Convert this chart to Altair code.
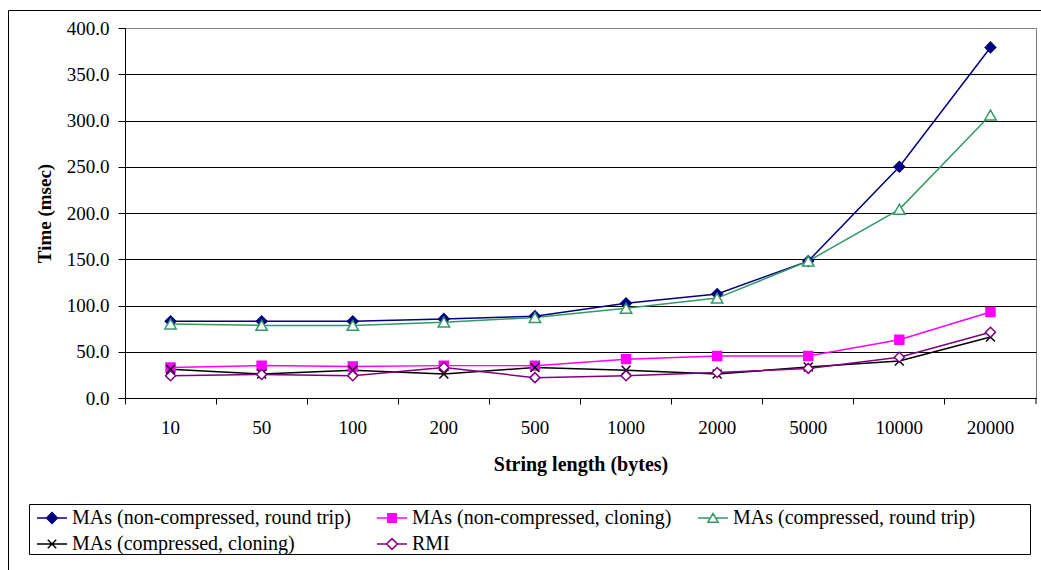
import altair as alt
import pandas as pd

categories = ["10", "50", "100", "200", "500", "1000", "2000", "5000", "10000", "20000"]
series_names = [
    "MAs (non-compressed, round trip)",
    "MAs (non-compressed, cloning)",
    "MAs (compressed, round trip)",
    "MAs (compressed, cloning)",
    "RMI",
]
ma_nc_round_trip = [83, 83, 83, 85.5, 88.5, 102.5, 112.5, 148, 250, 379]
ma_nc_cloning = [33, 35, 34, 35, 35, 42, 45.5, 45.5, 63, 93]
ma_c_round_trip = [80, 78.5, 78.5, 82, 87, 97, 108, 148, 204, 306]
ma_c_cloning = [31, 26, 30, 26, 33, 30, 26, 33.5, 40, 66]
rmi = [24, 25.5, 24, 33, 22, 24, 27.5, 32, 44, 71]
y_ticks = [0, 50, 100, 150, 200, 250, 300, 350, 400]

colors = ["#000080", "#FF00FF", "#339966", "#000000", "#800080"]
fills = ["#000080", "#FF00FF", "#FFFFFF", "#FFFFFF", "#FFFFFF"]

all_values = [ma_nc_round_trip, ma_nc_cloning, ma_c_round_trip, ma_c_cloning, rmi]
rows = []
for name, vals in zip(series_names, all_values):
    for c, v in zip(categories, vals):
        rows.append({"length": c, "time": v, "series": name})
df = pd.DataFrame(rows)

FONT = "Liberation Serif"
W, H = 911, 370

x_enc = alt.X(
    "length:N",
    sort=categories,
    scale=alt.Scale(type="band", paddingInner=0, paddingOuter=0),
    axis=alt.Axis(
        title="String length (bytes)",
        labelAngle=0,
        bandPosition=0,
        tickSize=6,
        labelPadding=14,
        titlePadding=17,
        grid=False,
        domainColor="black",
        tickColor="black",
    ),
)
y_enc = alt.Y(
    "time:Q",
    scale=alt.Scale(domain=[0, 400], nice=False),
    axis=alt.Axis(
        title="Time (msec)",
        values=y_ticks,
        format=".1f",
        tickSize=7,
        labelPadding=9,
        titlePadding=12,
        domainColor="black",
        tickColor="black",
        gridColor={"condition": {"test": "datum.value == 400", "value": "#808080"}, "value": "#000000"},
    ),
)

base = alt.Chart(df)

lines = base.mark_line(strokeWidth=1.5).encode(
    x=x_enc,
    y=y_enc,
    color=alt.Color("series:N", scale=alt.Scale(domain=series_names, range=colors), legend=None),
)

cross_path = "M-1,-1L1,1M-1,1L1,-1"
marker_specs = [
    dict(shape="diamond", size=110, fill="#000080", stroke="#000080"),
    dict(shape="square", size=80, fill="#FF00FF", stroke="#FF00FF"),
    dict(shape="triangle-up", size=130, fill="#FFFFFF", stroke="#339966"),
    dict(shape=cross_path, size=80, fill="transparent", stroke="#000000"),
    dict(shape="diamond", size=100, fill="#FFFFFF", stroke="#800080"),
]
point_layers = []
for name, spec in zip(series_names, marker_specs):
    point_layers.append(
        base.transform_filter(alt.datum.series == name)
        .mark_point(opacity=1, strokeWidth=1.5, **spec)
        .encode(x=x_enc, y=y_enc)
    )

legend_shapes = [
    "M-1,0H1M0,-0.36L0.36,0L0,0.36L-0.36,0Z",
    "M-1,0H1M-0.28,-0.28H0.28V0.28H-0.28Z",
    "M-1,0H-0.2M0.2,0H1M0,-0.3L0.34,0.28H-0.34Z",
    "M-1,0H1M-0.28,-0.28L0.28,0.28M-0.28,0.28L0.28,-0.28",
    "M-1,0H-0.36M0.36,0H1M0,-0.36L0.36,0L0,0.36L-0.36,0Z",
]
# legend entries fill column by column: reorder so rows read s1 s2 s3 / s4 s5
leg_order = [0, 3, 1, 4, 2]
leg_domain = [series_names[i] for i in leg_order]
leg_shapes = [legend_shapes[i] for i in leg_order]
leg_colors = [colors[i] for i in leg_order]
leg_fills = [fills[i] for i in leg_order]

legend_props = dict(
    orient="none",
    legendX=-89,
    legendY=474,
    columns=3,
    title=None,
    labelFont=FONT,
    labelFontSize=20,
    labelColor="black",
    labelLimit=600,
    labelOffset=4,
    symbolSize=900,
    symbolStrokeWidth=1.5,
    columnPadding=23,
    rowPadding=0,
    padding=0,
)
legend_layer = (
    base.transform_filter("datum.series == 'none'")
    .mark_point(size=900, strokeWidth=1.5, opacity=1)
    .encode(
        x=x_enc,
        y=y_enc,
        shape=alt.Shape(
            "series:N",
            scale=alt.Scale(domain=leg_domain, range=leg_shapes),
            legend=alt.Legend(**legend_props),
        ),
        stroke=alt.Stroke("series:N", scale=alt.Scale(domain=leg_domain, range=leg_colors)),
        fill=alt.Fill("series:N", scale=alt.Scale(domain=leg_domain, range=leg_fills)),
    )
)

one = alt.Chart(pd.DataFrame({"k": [0]}))
outer_frame = one.mark_rect(fill=None, stroke="black", strokeWidth=1).encode(
    x=alt.value(-116.5), x2=alt.value(930), y=alt.value(-17.5), y2=alt.value(560)
)
legend_box = one.mark_rect(fill=None, stroke="black", strokeWidth=1).encode(
    x=alt.value(-95.5), x2=alt.value(905.5), y=alt.value(476.5), y2=alt.value(526.5)
)
end_tick = one.mark_rule(color="black", strokeWidth=1).encode(
    x=alt.value(W), y=alt.value(H), y2=alt.value(H + 6)
)

chart = (
    alt.layer(outer_frame, legend_box, end_tick, lines, *point_layers, legend_layer)
    .resolve_scale(shape="independent", stroke="independent", fill="independent")
    .properties(
        width=W,
        height=H,
        autosize=alt.AutoSizeParams(type="none"),
        padding={"left": 125, "top": 28, "right": 5, "bottom": 172},
        background="white",
    )
    .configure_view(stroke="#808080", strokeWidth=1)
    .configure_axis(
        labelFont=FONT,
        labelFontSize=19,
        labelColor="black",
        titleFont=FONT,
        titleFontSize=19,
        titleFontWeight="bold",
        titleColor="black",
        gridOpacity=1,
        gridWidth=1,
    )
    .configure_axisX(titleFontSize=20)
)

chart.save("out.html", embed_options={"renderer": "svg", "actions": False})
